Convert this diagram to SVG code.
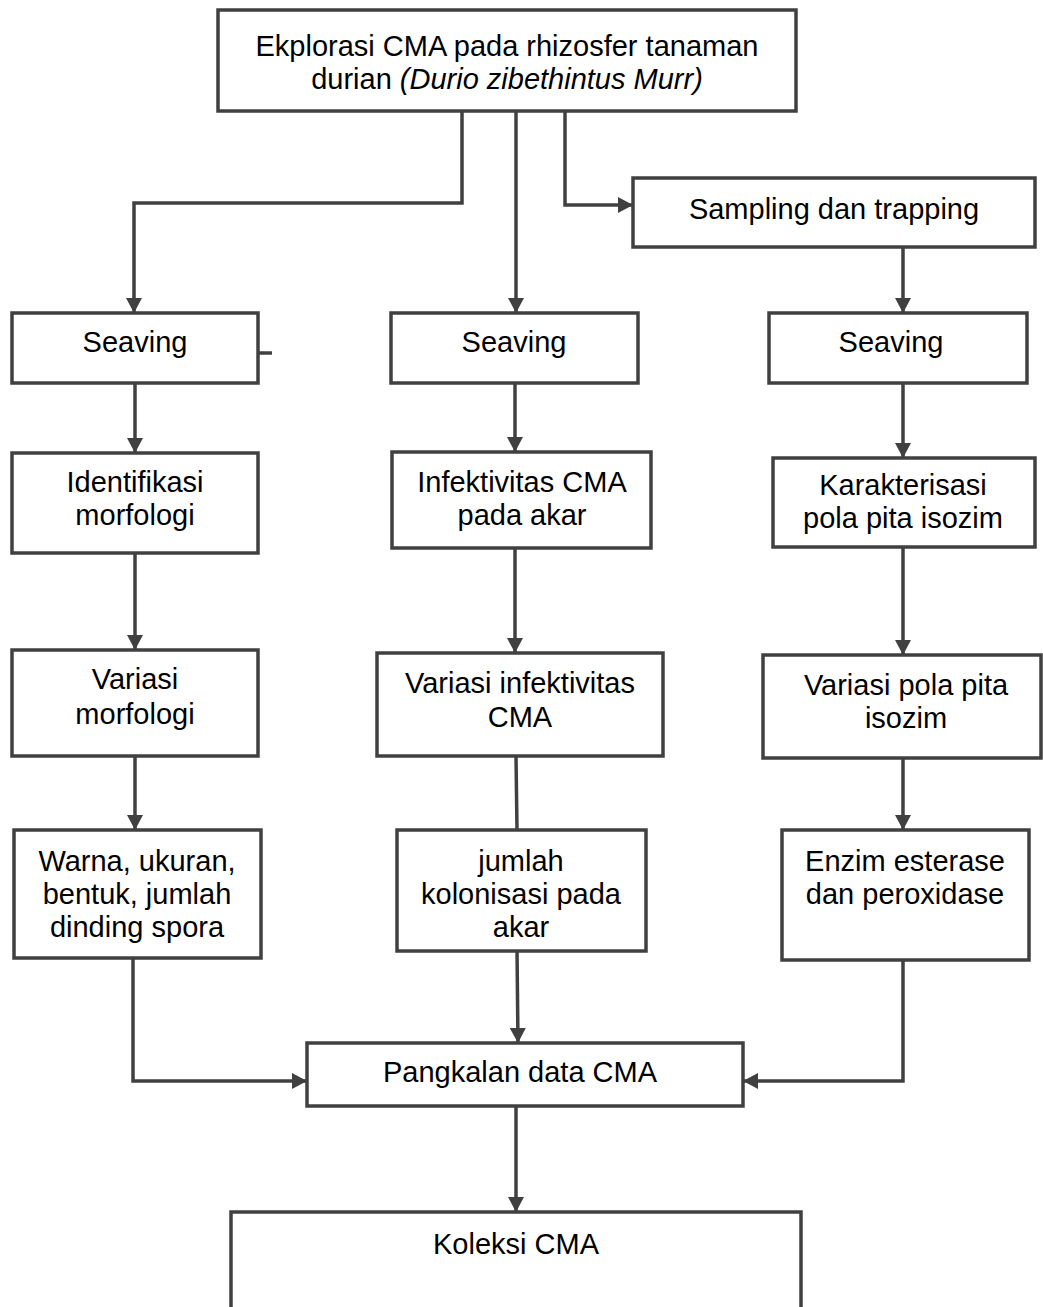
<svg xmlns="http://www.w3.org/2000/svg" width="1043" height="1307" viewBox="0 0 1043 1307">
<style>
.box{fill:#fff;stroke:#404040;stroke-width:3.5}
.t{font-family:"Liberation Sans",Arial,sans-serif;font-size:29px;fill:#000;text-anchor:middle}
.c{fill:none;stroke:#404040;stroke-width:3.5}
.a{marker-end:url(#ah)}
</style>
<defs>
<marker id="ah" markerUnits="userSpaceOnUse" markerWidth="16" markerHeight="16" refX="15" refY="8" orient="auto">
<path d="M0,0 L15,8 L0,16 z" fill="#404040"/>
</marker>
</defs>
<rect width="1043" height="1307" fill="#fff"/>
<g id="connectors">
<polyline class="c a" points="462,110 462,203 134,203 134,313"/>
<polyline class="c a" points="516,110 516,313"/>
<polyline class="c a" points="565,110 565,205 633,205"/>
<polyline class="c a" points="903,247 903,313"/>
<line class="c" x1="258" y1="353" x2="272" y2="353"/>
<polyline class="c a" points="135,383 135,453"/>
<polyline class="c a" points="515,383 515,452"/>
<polyline class="c a" points="903,383 903,458"/>
<polyline class="c a" points="135,553 135,650"/>
<polyline class="c a" points="515,548 515,653"/>
<polyline class="c a" points="903,547 903,655"/>
<polyline class="c a" points="135,756 135,830"/>
<polyline class="c" points="516,756 517,830"/>
<polyline class="c a" points="903,758 903,830"/>
<polyline class="c a" points="133,958 133,1081 307,1081"/>
<polyline class="c a" points="517,950 518,1043"/>
<polyline class="c a" points="903,960 903,1081 743,1081"/>
<polyline class="c a" points="516,1106 516,1212"/>
</g>
<g id="n-top"><rect class="box" x="218" y="10" width="578" height="101"/>
<text class="t" x="507" y="56">Ekplorasi CMA pada rhizosfer tanaman</text>
<text class="t" x="507" y="89">durian <tspan font-style="italic">(Durio zibethintus Murr)</tspan></text></g>
<g id="n-sampling"><rect class="box" x="633" y="178" width="402" height="69"/>
<text class="t" x="834" y="219">Sampling dan trapping</text></g>
<g id="n-seav1"><rect class="box" x="12" y="313" width="246" height="70"/>
<text class="t" x="135" y="352">Seaving</text></g>
<g id="n-seav2"><rect class="box" x="391" y="313" width="247" height="70"/>
<text class="t" x="514" y="352">Seaving</text></g>
<g id="n-seav3"><rect class="box" x="769" y="313" width="258" height="70"/>
<text class="t" x="891" y="352">Seaving</text></g>
<g id="n-ident"><rect class="box" x="12" y="453" width="246" height="100"/>
<text class="t" x="135" y="492">Identifikasi</text>
<text class="t" x="135" y="525">morfologi</text></g>
<g id="n-infek"><rect class="box" x="392" y="452" width="259" height="96"/>
<text class="t" x="522" y="492">Infektivitas CMA</text>
<text class="t" x="522" y="525">pada akar</text></g>
<g id="n-karak"><rect class="box" x="773" y="458" width="262" height="89"/>
<text class="t" x="903" y="495">Karakterisasi</text>
<text class="t" x="903" y="528">pola pita isozim</text></g>
<g id="n-vmorf"><rect class="box" x="12" y="650" width="246" height="106"/>
<text class="t" x="135" y="689">Variasi</text>
<text class="t" x="135" y="724">morfologi</text></g>
<g id="n-vinf"><rect class="box" x="377" y="653" width="286" height="103"/>
<text class="t" x="520" y="693">Variasi infektivitas</text>
<text class="t" x="520" y="727">CMA</text></g>
<g id="n-vpola"><rect class="box" x="763" y="655" width="278" height="103"/>
<text class="t" x="906" y="695">Variasi pola pita</text>
<text class="t" x="906" y="728">isozim</text></g>
<g id="n-warna"><rect class="box" x="14" y="830" width="247" height="128"/>
<text class="t" x="137" y="871">Warna, ukuran,</text>
<text class="t" x="137" y="904">bentuk, jumlah</text>
<text class="t" x="137" y="937">dinding spora</text></g>
<g id="n-jumlah"><rect class="box" x="397" y="830" width="249" height="121"/>
<text class="t" x="521" y="871">jumlah</text>
<text class="t" x="521" y="904">kolonisasi pada</text>
<text class="t" x="521" y="937">akar</text></g>
<g id="n-enzim"><rect class="box" x="782" y="830" width="247" height="130"/>
<text class="t" x="905" y="871">Enzim esterase</text>
<text class="t" x="905" y="904">dan peroxidase</text></g>
<g id="n-pangkalan"><rect class="box" x="307" y="1043" width="436" height="63"/>
<text class="t" x="520" y="1082">Pangkalan data CMA</text></g>
<g id="n-koleksi"><rect class="box" x="231" y="1212" width="570" height="120"/>
<text class="t" x="516" y="1254">Koleksi CMA</text></g>
</svg>
